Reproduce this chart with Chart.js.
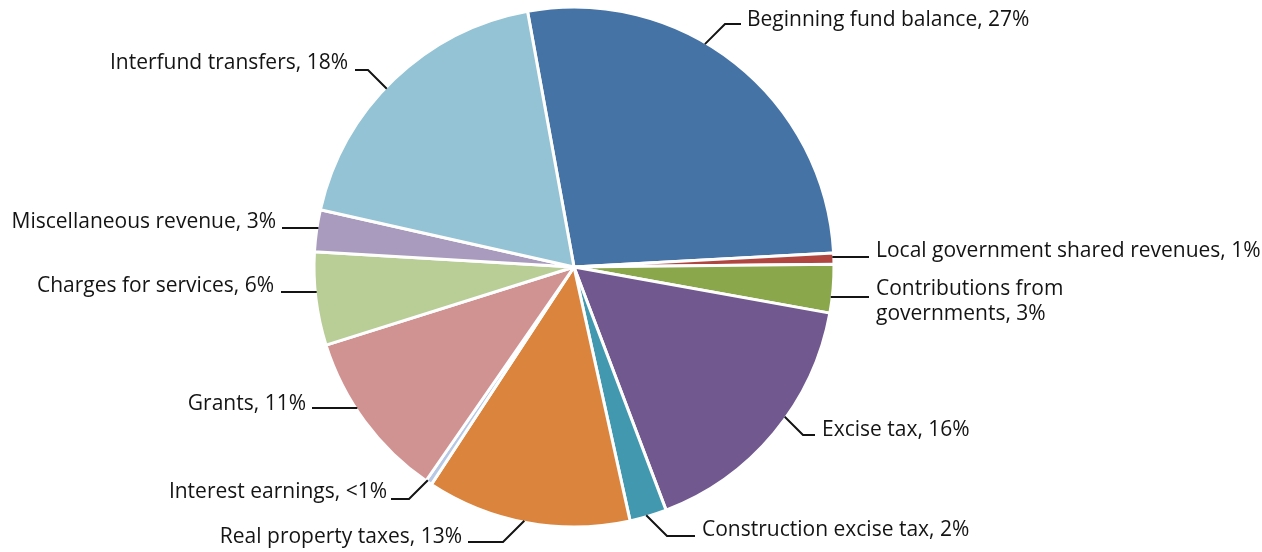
<!DOCTYPE html>
<html>
<head>
<meta charset="utf-8">
<script src="https://cdn.jsdelivr.net/npm/chart.js@4.4.1/dist/chart.umd.min.js"></script>
<style>
  html, body { margin: 0; padding: 0; background: #fff; }
  #wrap { width: 1262px; height: 552px; }
</style>
</head>
<body>
<div id="wrap"><canvas id="revenuePie" width="1262" height="552"></canvas></div>
<script>
// slices, clockwise from the top
var categories = [
  "Beginning fund balance",
  "Local government shared revenues",
  "Contributions from governments",
  "Excise tax",
  "Construction excise tax",
  "Real property taxes",
  "Interest earnings",
  "Grants",
  "Charges for services",
  "Miscellaneous revenue",
  "Interfund transfers"
];
var shares = [27.0, 0.7, 3.0, 16.4, 2.3, 12.7, 0.4, 10.5, 5.8, 2.6, 18.6];
var shareText = ["27%", "1%", "3%", "16%", "2%", "13%", "<1%", "11%", "6%", "3%", "18%"];
var sliceColors = [
  "#4673a6", "#b0463f", "#8aa74c", "#71588f", "#4198af", "#db843d",
  "#b6c8e4", "#d19392", "#b9cd96", "#a99bbd", "#93c3d4"
];

// where each label sits and how its leader line is drawn
// side: which side of the pie, x/y: text anchor, lineY: leader height, gap: text to line, tail: flat part before the bend (0 = straight)
var labelSpots = [
  { side: "right", x: 747, y: 20,  lineY: 24,  gap: 6, tail: 16 },
  { side: "right", x: 876, y: 251, lineY: 257, gap: 7, tail: 0 },
  { side: "right", x: 876, y: 289, lineY: 297, gap: 7, tail: 0, maxWidth: 220 },
  { side: "right", x: 822, y: 430, lineY: 435, gap: 7, tail: 12 },
  { side: "right", x: 702, y: 530, lineY: 536, gap: 7, tail: 28 },
  { side: "left",  x: 462, y: 537, lineY: 542, gap: 6, tail: 35 },
  { side: "left",  x: 387, y: 492, lineY: 499, gap: 4, tail: 18 },
  { side: "left",  x: 306, y: 404, lineY: 408, gap: 6, tail: 0 },
  { side: "left",  x: 274, y: 286, lineY: 292, gap: 7, tail: 0 },
  { side: "left",  x: 276, y: 222, lineY: 228, gap: 6, tail: 0 },
  { side: "left",  x: 348, y: 63,  lineY: 70,  gap: 7, tail: 13 }
];

var labelFont = "21px 'Open Sans', sans-serif";
var textColor = "#141414";

function wrapText(ctx, text, maxWidth) {
  if (!maxWidth) return [text];
  var words = text.split(" ");
  var lines = [];
  var line = "";
  for (var i = 0; i < words.length; i++) {
    var test = line ? line + " " + words[i] : words[i];
    if (line && ctx.measureText(test).width > maxWidth) {
      lines.push(line);
      line = words[i];
    } else {
      line = test;
    }
  }
  lines.push(line);
  return lines;
}

var leaderLabels = {
  id: "leaderLabels",
  afterDatasetsDraw: function(chart) {
    var ctx = chart.ctx;
    var arcs = chart.getDatasetMeta(0).data;
    ctx.save();
    ctx.font = labelFont;
    ctx.fillStyle = textColor;
    ctx.strokeStyle = textColor;
    ctx.lineWidth = 2;
    ctx.textBaseline = "middle";

    for (var i = 0; i < arcs.length; i++) {
      var arc = arcs[i].getProps(["x", "y", "outerRadius"], true);
      var spot = labelSpots[i];
      var r = arc.outerRadius - 1.5;
      var dir = spot.side === "right" ? 1 : -1;
      var endX = spot.x - dir * spot.gap;
      var elbowX = endX - dir * spot.tail;
      var y = spot.lineY;

      // ray from the elbow back to the pie edge: 45 degrees if bent, flat otherwise
      var ux = -dir, uy = 0;
      if (spot.tail > 0) {
        ux = -dir / Math.SQRT2;
        uy = (arc.y > y ? 1 : -1) / Math.SQRT2;
      }
      var px = elbowX - arc.x, py = y - arc.y;
      var b = px * ux + py * uy;
      var c = px * px + py * py - r * r;
      var disc = b * b - c;
      var t = disc > 0 ? -b - Math.sqrt(disc) : 0;

      ctx.beginPath();
      ctx.moveTo(elbowX + t * ux, y + t * uy);
      ctx.lineTo(elbowX, y);
      ctx.lineTo(endX, y);
      ctx.stroke();

      var lines = wrapText(ctx, categories[i] + ", " + shareText[i], spot.maxWidth);
      ctx.textAlign = spot.side === "right" ? "left" : "right";
      for (var k = 0; k < lines.length; k++) {
        ctx.fillText(lines[k], spot.x, spot.y + k * 25);
      }
    }
    ctx.restore();
  }
};

var chartCanvas = document.getElementById("revenuePie").getContext("2d");
var revenueChart = new Chart(chartCanvas, {
  type: "pie",
  data: {
    labels: categories,
    datasets: [{
      data: shares,
      backgroundColor: sliceColors,
      borderColor: "#ffffff",
      borderWidth: 3
    }]
  },
  options: {
    responsive: false,
    animation: false,
    rotation: -10.3,
    radius: 260,
    layout: { padding: { left: 0, right: 114, top: 0, bottom: 18 } },
    plugins: {
      legend: { display: false },
      tooltip: { enabled: false }
    }
  },
  plugins: [leaderLabels]
});
</script>
</body>
</html>
